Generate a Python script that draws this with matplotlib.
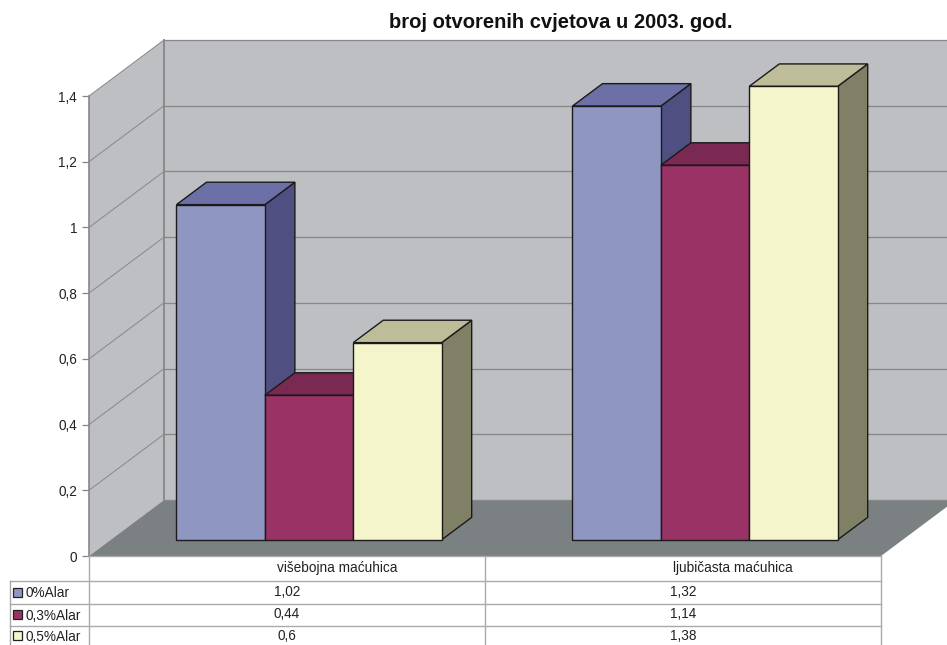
import numpy as np
import matplotlib
matplotlib.use("Agg")
import matplotlib.pyplot as plt
from matplotlib.patches import Polygon, Rectangle

plt.rcParams["font.family"] = ["Liberation Sans", "DejaVu Sans"]

categories = ["višebojna maćuhica", "ljubičasta maćuhica"]
series_names = ["0%Alar", "0,3%Alar", "0,5%Alar"]
alar_0 = [1.02, 1.32]
alar_03 = [0.44, 1.14]
alar_05 = [0.6, 1.38]
value_labels = [["1,02", "1,32"], ["0,44", "1,14"], ["0,6", "1,38"]]
y_ticks = [0, 0.2, 0.4, 0.6, 0.8, 1.0, 1.2, 1.4]
y_tick_labels = ["0", "0,2", "0,4", "0,6", "0,8", "1", "1,2", "1,4"]

W, H = 947, 645
# front plane of the 3d box, in pixels
left, right, bottom, top = 89, 881, 556, 96
depth_x, depth_y = 75, 56

front = ["#8F96C2", "#993366", "#F5F5CC"]
top_c = ["#6D70A6", "#7A2952", "#BDBD99"]
side = ["#4F4F82", "#66223F", "#7F8066"]
WALL = "#BEBFC3"
FLOOR = "#7B8083"
GRID = "#858789"
EDGE = "#1A1A1A"
FONT = 9.8

fig = plt.figure(figsize=(W / 100, H / 100), dpi=100)
ax = fig.add_axes([left / W, 1 - bottom / H, (right - left) / W, (bottom - top) / H])
ax.set_xlim(0, 2)
ax.set_ylim(0, 1.4)
ax.patch.set_visible(False)

px_x = (right - left) / 2      # pixels per category
px_y = (bottom - top) / 1.4    # pixels per unit


def proj(x, y, d):
    # x,y on the front plane pushed back by depth d (0 front, 1 back wall)
    return (x + d * depth_x / px_x, y + d * depth_y / px_y)


def face(pts, color, edge="none", lw=0.0, z=1):
    ax.add_patch(Polygon(pts, closed=True, facecolor=color, edgecolor=edge,
                         linewidth=lw, zorder=z, clip_on=False, joinstyle="miter"))


# walls and floor
face([proj(0, 0, 1), proj(2, 0, 1), proj(2, 1.4, 1), proj(0, 1.4, 1)], WALL, z=1)
face([proj(0, 0, 0), proj(0, 0, 1), proj(0, 1.4, 1), proj(0, 1.4, 0)], WALL, z=1)
face([proj(0, 0, 0), proj(2, 0, 0), proj(2, 0, 1), proj(0, 0, 1)], FLOOR, z=2)

# grid lines on both walls
for v in y_ticks[1:]:
    xs, ys = zip(proj(0, v, 0), proj(0, v, 1))
    ax.plot(xs, ys, color=GRID, lw=0.7, zorder=2, clip_on=False)
    xs, ys = zip(proj(0, v, 1), proj(2, v, 1))
    ax.plot(xs, ys, color=GRID, lw=0.9, zorder=2, clip_on=False)
xs, ys = zip(proj(0, 0, 1), proj(0, 1.4, 1))
ax.plot(xs, ys, color=GRID, lw=1.3, zorder=2, clip_on=False)
xs, ys = zip(proj(0, 0, 1), proj(2, 0, 1))
ax.plot(xs, ys, color=GRID, lw=1.0, zorder=3, clip_on=False)

# bars
bar_w = 88.4 / px_x
pad = 0.166
d0, d1 = 0.29, 0.69
z = 5
for i, cat in enumerate(categories):
    for k, vals in enumerate([alar_0, alar_03, alar_05]):
        x0 = i + pad + k * bar_w
        x1 = x0 + bar_w
        v = vals[i]
        face([proj(x1, 0, d0), proj(x1, 0, d1), proj(x1, v, d1), proj(x1, v, d0)],
             side[k], EDGE, 1.0, z)
        face([proj(x0, v, d0), proj(x1, v, d0), proj(x1, v, d1), proj(x0, v, d1)],
             top_c[k], EDGE, 1.0, z)
        face([proj(x0, 0, d0), proj(x1, 0, d0), proj(x1, v, d0), proj(x0, v, d0)],
             front[k], EDGE, 1.0, z + 0.5)
        z += 1

# value axis
ax.set_xticks([])
ax.set_yticks(y_ticks)
ax.set_yticklabels(y_tick_labels, fontsize=FONT, color="#222222")
ax.tick_params(axis="y", length=5, width=0.9, color=GRID, pad=3.5)
for s in ["top", "right", "bottom"]:
    ax.spines[s].set_visible(False)
ax.spines["left"].set_color(GRID)
ax.spines["left"].set_linewidth(1.2)
ax.spines["left"].set_zorder(3)

# data table, drawn on a pixel overlay
tb = fig.add_axes([0, 0, 1, 1])
tb.set_xlim(0, W)
tb.set_ylim(H, 0)
tb.axis("off")
rows = [556, 580.5, 603.5, 625.5, 646]
mid = (left + right) / 2
LINE = "#A9A9A9"
tb.plot([left, right], [rows[0], rows[0]], color=LINE, lw=1.0, zorder=1)
for y in rows[1:4]:
    tb.plot([10, right], [y, y], color=LINE, lw=1.0, zorder=1)
tb.plot([10, 10], [rows[1], H], color=LINE, lw=1.0)
tb.plot([left, left], [rows[0], H], color=LINE, lw=1.0)
tb.plot([mid, mid], [rows[0], H], color=LINE, lw=1.0)
tb.plot([right, right], [rows[0], H], color=LINE, lw=1.0)

for j, cat in enumerate(categories):
    # header labels sit right of the cell centre in the original
    tb.text(left + (j + 0.5) * (mid - left) + 50, (rows[0] + rows[1]) / 2, cat,
            ha="center", va="center", fontsize=FONT, color="#222222")
for r, name in enumerate(series_names):
    yc = (rows[r + 1] + rows[r + 2]) / 2
    tb.add_patch(Rectangle((12.5, yc - 4.5), 9, 9, facecolor=front[r],
                           edgecolor="#222222", lw=0.9))
    tb.text(25, yc + 1, name, ha="left", va="center", fontsize=FONT, color="#222222")
    for j in range(2):
        tb.text(left + (j + 0.5) * (mid - left), yc, value_labels[r][j],
                ha="center", va="center", fontsize=FONT, color="#222222")

tb.text(561, 22, "broj otvorenih cvjetova u 2003. god.", ha="center", va="center",
        fontsize=14.5, fontweight="bold", color="#111111")

fig.savefig("out.png", dpi=100)
plt.close(fig)
